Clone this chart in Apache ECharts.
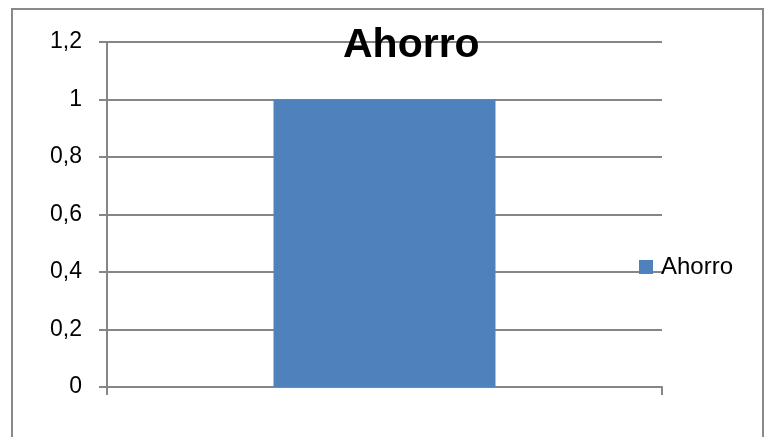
<!DOCTYPE html>
<html>
<head>
<meta charset="utf-8">
<script src="https://cdn.jsdelivr.net/npm/echarts@6/dist/echarts.min.js"></script>
<style>
html,body{margin:0;padding:0;background:#fff;}
#chart{width:773px;height:437px;}
</style>
</head>
<body>
<div id="chart"></div>
<script>
var titleText = 'Ahorro';
var categories = [''];
var seriesName = 'Ahorro';
var values = [1];
var yTicks = [0, 0.2, 0.4, 0.6, 0.8, 1, 1.2];

var chart = echarts.init(document.getElementById('chart'), null, {renderer: 'canvas'});
var gray = '#868686';
var font = 'Liberation Sans, Arial, sans-serif';
chart.setOption({
  animation: false,
  backgroundColor: '#ffffff',
  graphic: [{
    type: 'rect',
    shape: {x: 12, y: 9, width: 751, height: 450},
    style: {fill: 'none', stroke: '#898989', lineWidth: 2},
    silent: true,
    z: 0
  }],
  title: {
    text: titleText,
    left: 343,
    top: 25,
    textStyle: {fontFamily: font, fontWeight: 'bold', fontSize: 41, color: '#000'},
    padding: 0
  },
  legend: {
    data: [seriesName],
    left: 639,
    top: 255,
    icon: 'rect',
    itemWidth: 14,
    itemHeight: 14,
    itemGap: 0,
    padding: 0,
    textStyle: {fontFamily: font, fontSize: 24, color: '#000', lineHeight: 24, padding: [0, 0, 0, 3]}
  },
  grid: {left: 107, right: 111, top: 42, bottom: 50, containLabel: false},
  xAxis: {
    type: 'category',
    data: categories,
    boundaryGap: true,
    axisLine: {lineStyle: {color: gray, width: 2}},
    axisTick: {show: true, length: 8, lineStyle: {color: gray, width: 2}},
    axisLabel: {show: false},
    splitLine: {show: false}
  },
  yAxis: {
    type: 'value',
    min: yTicks[0],
    max: yTicks[yTicks.length - 1],
    interval: 0.2,
    axisLine: {show: true, lineStyle: {color: gray, width: 2}},
    axisTick: {show: true, length: 8, lineStyle: {color: gray, width: 2}},
    axisLabel: {
      margin: 25,
      fontFamily: font,
      fontSize: 23,
      color: '#000',
      formatter: function (v) { return String(+v.toFixed(1)).replace('.', ','); }
    },
    splitLine: {show: true, lineStyle: {color: gray, width: 2}}
  },
  series: [{
    name: seriesName,
    type: 'bar',
    data: values,
    barWidth: '40%',
    itemStyle: {color: '#4F81BD'}
  }]
});
</script>
</body>
</html>
